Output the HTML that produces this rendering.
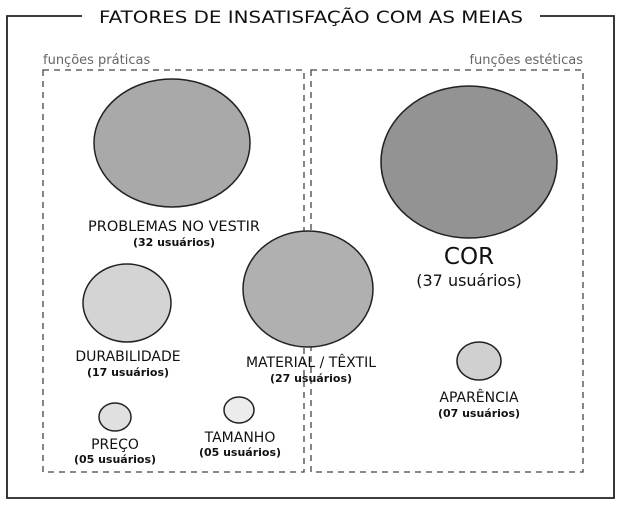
<!DOCTYPE html>
<html><head><meta charset="utf-8"><style>
body{margin:0;background:#fff;}
svg text{font-family:"DejaVu Sans","Liberation Sans",sans-serif;fill:#111;text-anchor:middle;}
</style></head><body>
<svg width="620" height="506" viewBox="0 0 620 506" xmlns="http://www.w3.org/2000/svg">
<rect width="620" height="506" fill="#fff"/>
<path d="M82 16 H7 V498 H614 V16 H540" fill="none" stroke="#222" stroke-width="1.8"/>
<text x="311" y="23" font-size="17" textLength="424" lengthAdjust="spacingAndGlyphs">FATORES DE INSATISFAÇÃO COM AS MEIAS</text>
<text x="43" y="64" font-size="13" style="text-anchor:start;fill:#666">funções práticas</text>
<text x="583" y="64" font-size="13" style="text-anchor:end;fill:#666">funções estéticas</text>
<rect x="43" y="70" width="261" height="402" fill="none" stroke="#444" stroke-width="1.3" stroke-dasharray="6,5"/>
<rect x="311" y="70" width="272" height="402" fill="none" stroke="#444" stroke-width="1.3" stroke-dasharray="6,5"/>
<g stroke="#222" stroke-width="1.5">
<ellipse cx="172" cy="143" rx="78" ry="64" fill="#a9a9a9"/>
<ellipse cx="469" cy="162" rx="88" ry="76" fill="#939393"/>
<ellipse cx="308" cy="289" rx="65" ry="58" fill="#b0b0b0"/>
<ellipse cx="127" cy="303" rx="44" ry="39" fill="#d4d4d4"/>
<ellipse cx="115" cy="417" rx="16" ry="14" fill="#e0e0e0"/>
<ellipse cx="239" cy="410" rx="15" ry="13" fill="#ececec"/>
<ellipse cx="479" cy="361" rx="22" ry="19" fill="#d0d0d0"/>
</g>
<text x="174" y="231" font-size="14" textLength="172" lengthAdjust="spacingAndGlyphs">PROBLEMAS NO VESTIR</text>
<text x="174" y="246" font-size="11" font-weight="bold">(32 usuários)</text>
<text x="469" y="264" font-size="23">COR</text>
<text x="469" y="286" font-size="16">(37 usuários)</text>
<text x="128" y="361" font-size="14">DURABILIDADE</text>
<text x="128" y="376" font-size="11" font-weight="bold">(17 usuários)</text>
<text x="311" y="367" font-size="14">MATERIAL / TÊXTIL</text>
<text x="311" y="382" font-size="11" font-weight="bold">(27 usuários)</text>
<text x="115" y="449" font-size="14">PREÇO</text>
<text x="115" y="463" font-size="11" font-weight="bold">(05 usuários)</text>
<text x="240" y="442" font-size="14">TAMANHO</text>
<text x="240" y="456" font-size="11" font-weight="bold">(05 usuários)</text>
<text x="479" y="402" font-size="14">APARÊNCIA</text>
<text x="479" y="417" font-size="11" font-weight="bold">(07 usuários)</text>
</svg>
</body></html>
